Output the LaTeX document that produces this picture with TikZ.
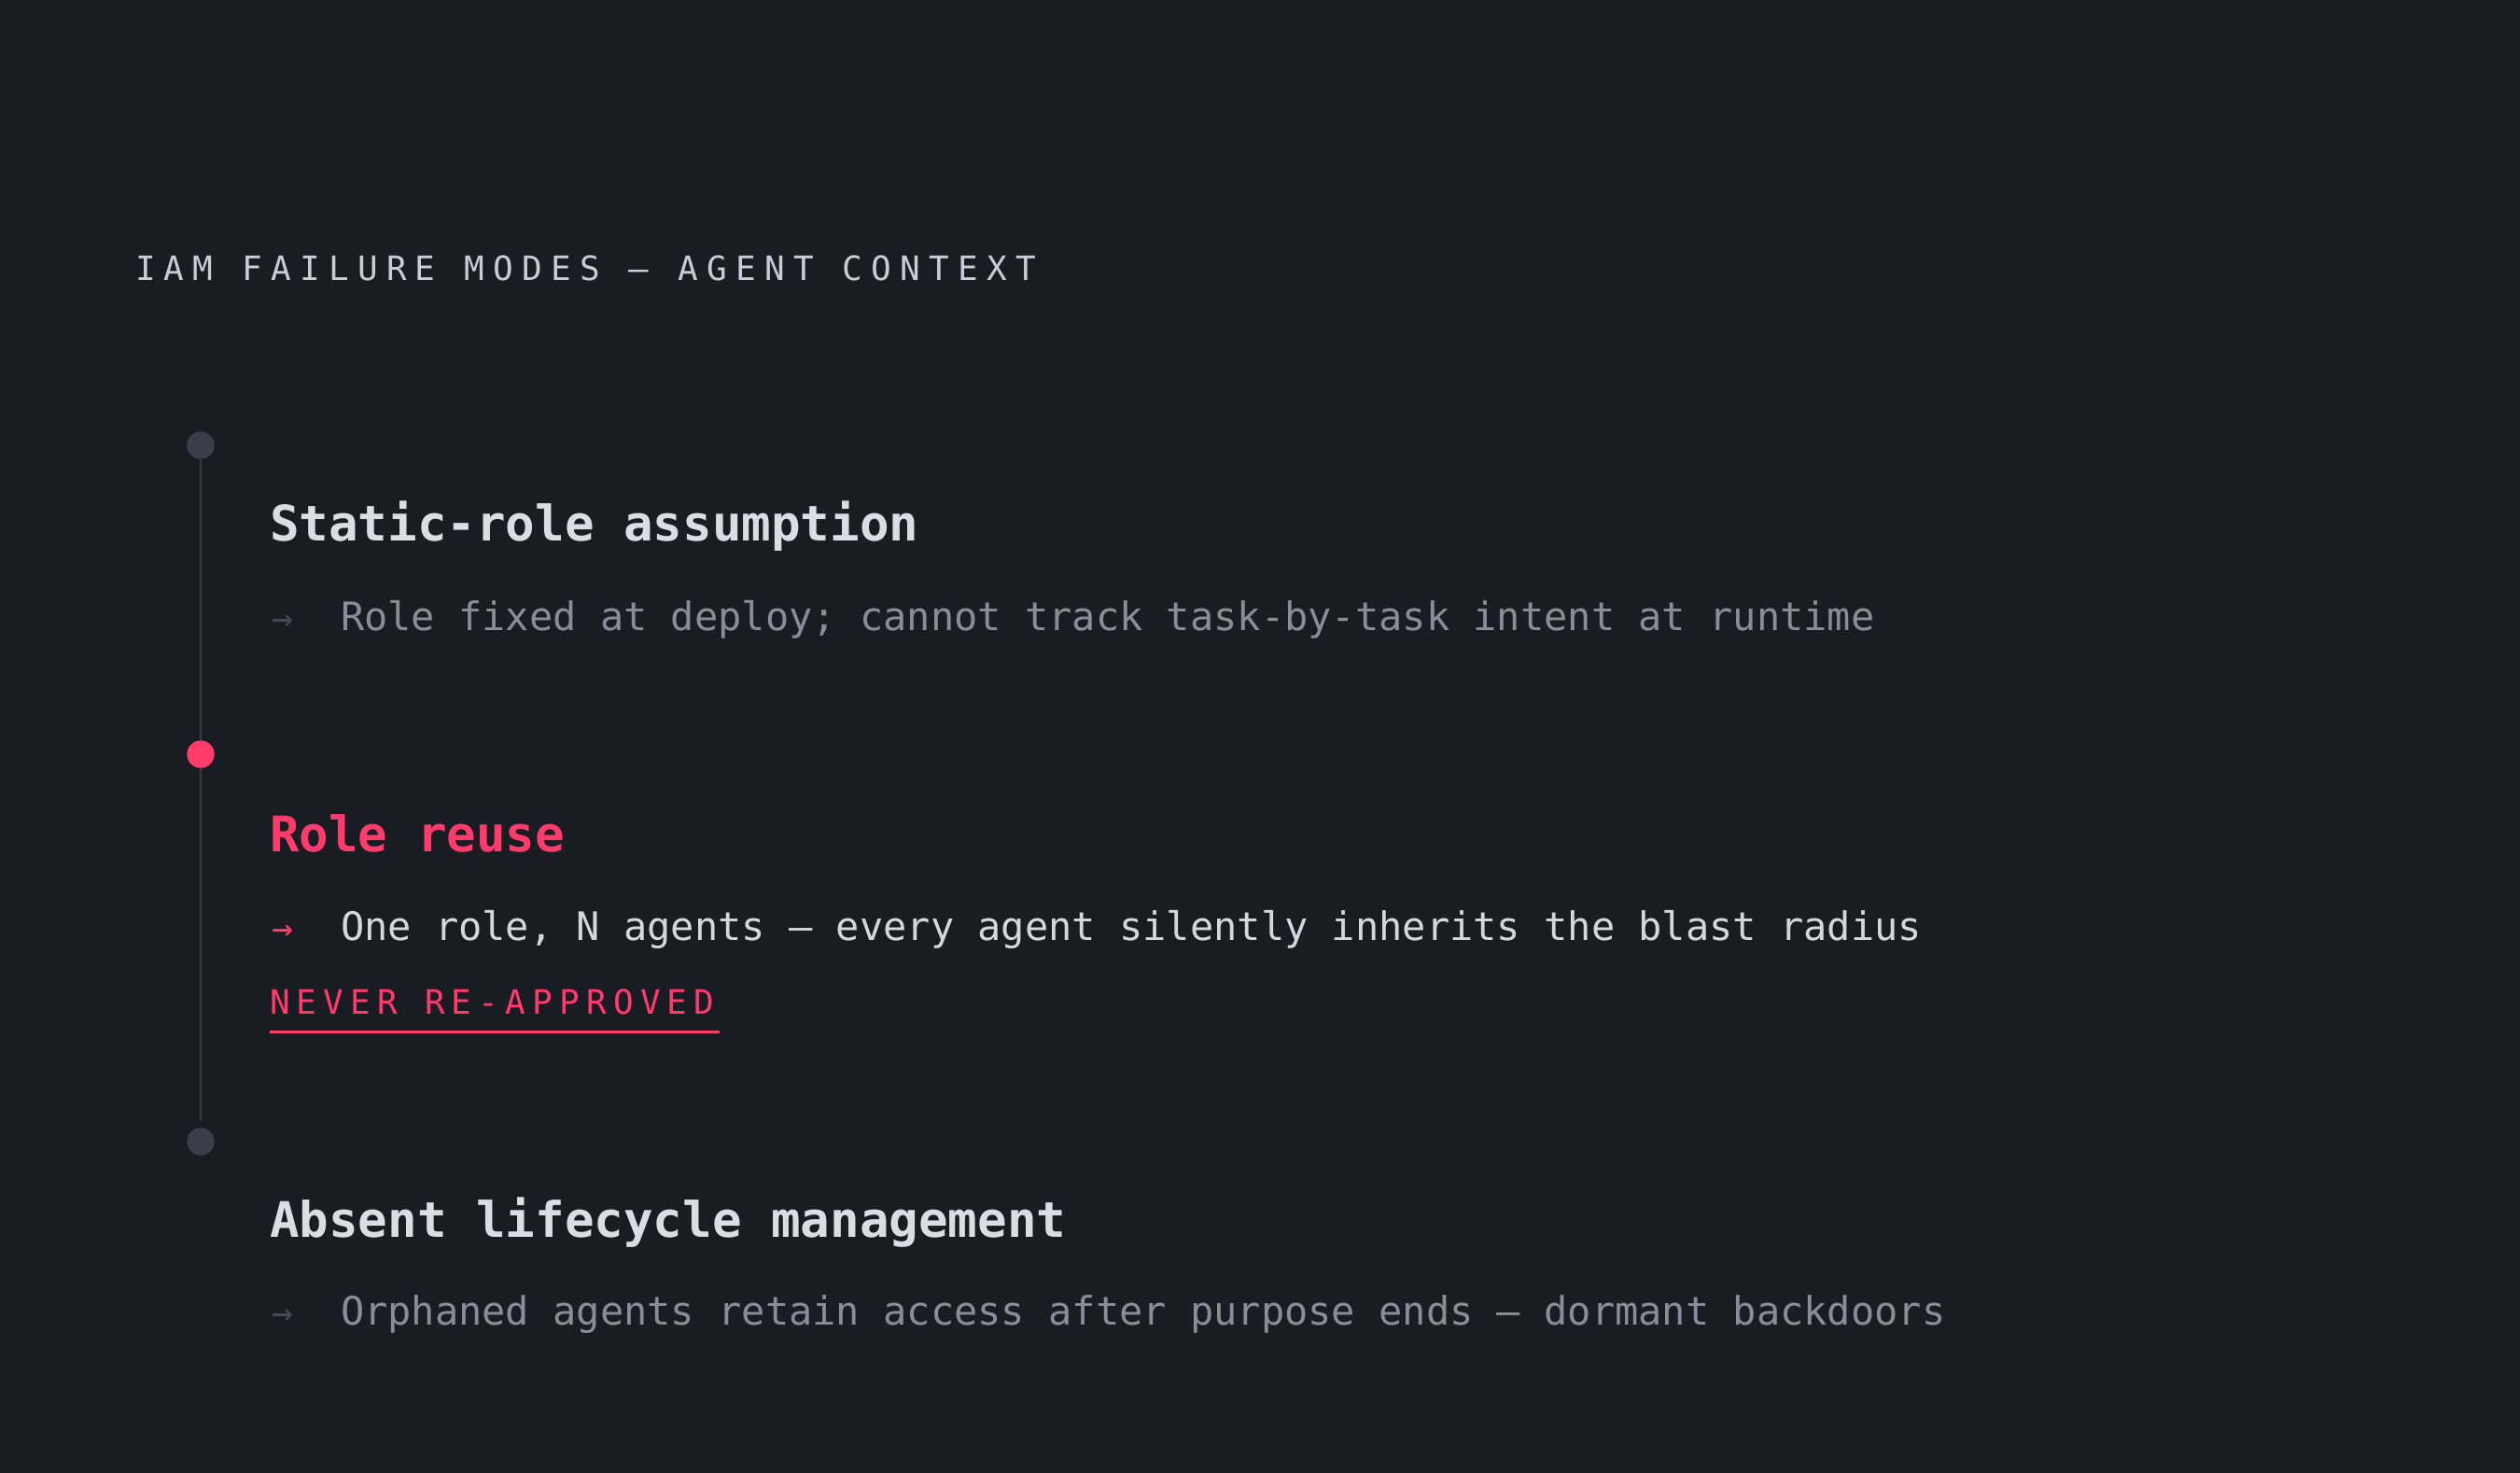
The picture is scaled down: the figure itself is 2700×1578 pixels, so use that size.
\documentclass[tikz,border=0pt]{standalone}
\usepackage{fontspec}
\newfontfamily\pmono{DejaVu Sans Mono}
\newfontfamily\pmonoA[LetterSpace=25.7]{DejaVu Sans Mono}
\newfontfamily\pmonoB[LetterSpace=20]{DejaVu Sans Mono}
\definecolor{bg}{HTML}{1A1C23}
\definecolor{accent}{HTML}{FF3B6B}
\definecolor{headcol}{HTML}{DADCE6}
\definecolor{dimtext}{HTML}{8A8D98}
\definecolor{brighttext}{HTML}{D4D6E0}
\definecolor{dimarrow}{HTML}{474A55}
\definecolor{dotgray}{HTML}{3B3E48}
\definecolor{linegray}{HTML}{363944}
\definecolor{titlecol}{HTML}{C9CCD6}
\tikzset{
  txt/.style={anchor=base west, inner sep=0pt, outer sep=0pt},
  titletxt/.style={txt, text=titlecol, font=\pmonoA\fontsize{18pt}{20pt}\selectfont},
  headtxt/.style={txt, text=headcol, font=\pmono\bfseries\fontsize{26.25pt}{30pt}\selectfont},
  subtxt/.style={txt, text=dimtext, font=\pmono\fontsize{21pt}{24pt}\selectfont},
  arrowtxt/.style={txt, text=dimarrow, font=\pmono\fontsize{19pt}{24pt}\selectfont},
  tagtxt/.style={txt, text=accent, font=\pmonoB\fontsize{18pt}{20pt}\selectfont},
  dotnode/.style={circle, inner sep=0pt, outer sep=0pt, minimum size=14.7pt, fill=dotgray},
  tline/.style={draw=linegray, line width=1pt},
}
\begin{document}
\begin{tikzpicture}[x=0.5pt, y=-0.5pt]
\useasboundingbox (0,0) rectangle (2700,1578);
\fill[bg] (0,0) rectangle (2700,1578);

\node[titletxt] (title) at (145,300) {IAM FAILURE MODES — AGENT CONTEXT};

\node[dotnode] (d1) at (215,477) {};
\node[dotnode] (d3) at (215,1223) {};
\draw[tline, shorten >=3.5pt] (d1.south) -- (d3.north);
\node[dotnode, fill=accent] (d2) at (215,808) {};

% item 1
\node[headtxt] (h1) at (289,579) {Static-role assumption};
\node[arrowtxt] (a1) at (291,675) {→};
\node[subtxt] (s1) at (365,675) {Role fixed at deploy; cannot track task-by-task intent at runtime};

% item 2
\node[headtxt, text=accent] (h2) at (289,912) {Role reuse};
\node[arrowtxt, text=accent] (a2) at (291,1007) {→};
\node[subtxt, text=brighttext] (s2) at (365,1007) {One role, N agents — every agent silently inherits the blast radius};
\node[tagtxt] (tag) at (289,1086) {NEVER RE-APPROVED};
\draw[accent, line width=1.5pt] (289,1105) -- (771,1105);

% item 3
\node[headtxt] (h3) at (289,1325) {Absent lifecycle management};
\node[arrowtxt] (a3) at (291,1419) {→};
\node[subtxt] (s3) at (365,1419) {Orphaned agents retain access after purpose ends — dormant backdoors};
\end{tikzpicture}
\end{document}
